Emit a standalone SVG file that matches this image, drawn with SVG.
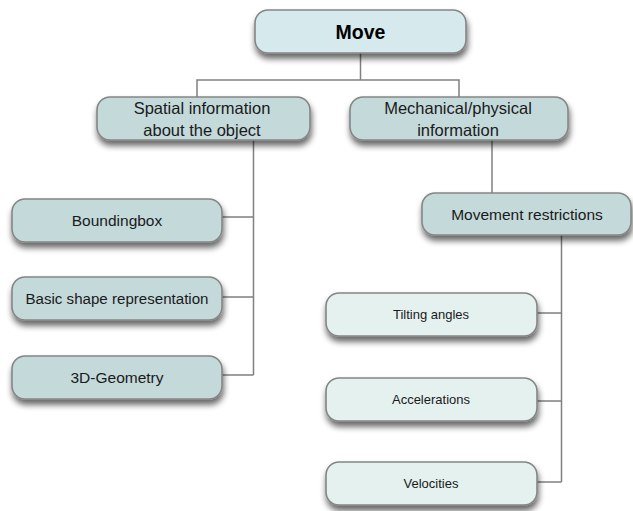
<svg xmlns="http://www.w3.org/2000/svg" width="633" height="511" viewBox="0 0 633 511">
<style>
.box{stroke:#858585;stroke-width:1.6;filter:url(#sh)}
.top{fill:#d6e9ec}
.mid{fill:#c4d9da}
.lt{fill:#e4f1ef}
.t{font-family:"Liberation Sans",Arial,sans-serif;fill:#1a1a1a;text-anchor:middle;dominant-baseline:central}
.h{font-size:16.5px}
.m{font-size:15.5px}
.s{font-size:13px}
.b{font-size:19.5px;font-weight:bold;fill:#000}
.ln{fill:none;stroke:#808080;stroke-width:1.5}
</style>
<defs>
<filter id="sh" x="-10%" y="-20%" width="120%" height="170%">
<feGaussianBlur in="SourceAlpha" stdDeviation="3"/>
<feOffset dx="1" dy="5" result="o"/>
<feComponentTransfer><feFuncA type="linear" slope="0.6"/></feComponentTransfer>
<feMerge><feMergeNode/><feMergeNode in="SourceGraphic"/></feMerge>
</filter>
</defs>
<rect width="633" height="511" fill="#fff"/>
<g id="connectors">
<path class="ln" d="M360.5 53V80M197 97V80H459V97"/>
<path class="ln" d="M253.5 140V375M222 217H253.5M222 297H253.5M222 375H253.5"/>
<path class="ln" d="M492 140V193"/>
<path class="ln" d="M561.5 235V482M537 313H561.5M537 401H561.5M537 482H561.5"/>
</g>
<g id="move"><rect class="box top" x="255" y="10" width="211" height="43" rx="13"/><text class="t b" x="360.5" y="32">Move</text></g>
<g id="spatial"><rect class="box mid" x="97" y="97" width="213" height="43" rx="13"/><text class="t h" x="202" y="108">Spatial information</text><text class="t h" x="202" y="130">about the object</text></g>
<g id="mechanical"><rect class="box mid" x="350" y="97" width="218" height="43" rx="13"/><text class="t h" x="458" y="108">Mechanical/physical</text><text class="t h" x="458" y="130">information</text></g>
<g id="boundingbox"><rect class="box mid" x="12" y="199" width="210" height="43" rx="13"/><text class="t m" x="117" y="220">Boundingbox</text></g>
<g id="basicshape"><rect class="box mid" x="12" y="277" width="210" height="43" rx="13"/><text class="t m" x="117" y="298" textLength="183" lengthAdjust="spacingAndGlyphs">Basic shape representation</text></g>
<g id="geometry"><rect class="box mid" x="12" y="356" width="210" height="43" rx="13"/><text class="t m" x="117" y="377">3D-Geometry</text></g>
<g id="restrictions"><rect class="box mid" x="422" y="193" width="209" height="42" rx="13"/><text class="t m" x="527" y="214">Movement restrictions</text></g>
<g id="tilting"><rect class="box lt" x="326" y="293" width="211" height="43" rx="13"/><text class="t s" x="431" y="314">Tilting angles</text></g>
<g id="accelerations"><rect class="box lt" x="326" y="378" width="211" height="43" rx="13"/><text class="t s" x="431" y="399">Accelerations</text></g>
<g id="velocities"><rect class="box lt" x="326" y="462" width="211" height="43" rx="13"/><text class="t s" x="431" y="483">Velocities</text></g>
</svg>
